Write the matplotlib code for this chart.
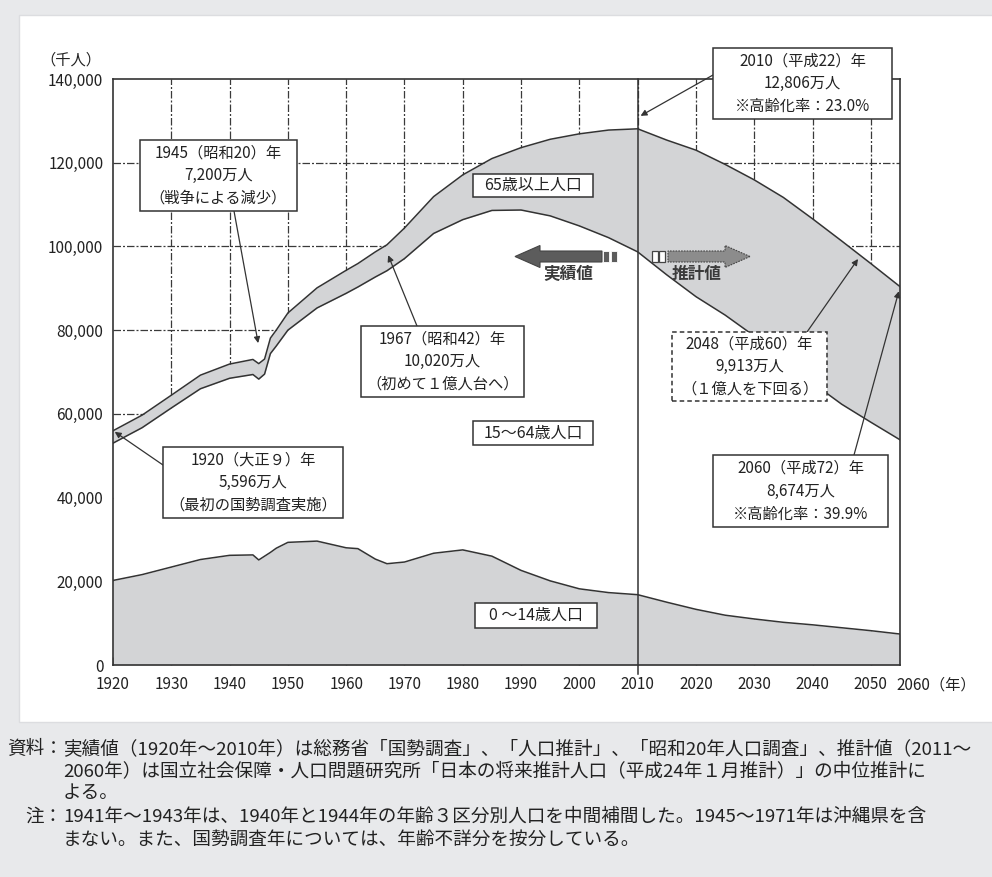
import numpy as np
import matplotlib
matplotlib.use("Agg")
import matplotlib.pyplot as plt
import matplotlib.patches as mpatches
from matplotlib.ticker import FuncFormatter

plt.rcParams['font.family'] = ['Noto Sans CJK JP', 'DejaVu Sans']

# --- data (thousand persons) ---
years = [1920, 1925, 1930, 1935, 1940, 1944, 1945, 1946, 1947, 1948, 1950,
         1955, 1960, 1962, 1965, 1967, 1970, 1975, 1980, 1985, 1990, 1995,
         2000, 2005, 2010, 2015, 2020, 2025, 2030, 2035, 2040, 2045, 2050, 2055]
age_0_14 = [20200, 21600, 23400, 25200, 26200, 26300, 25100, 26000, 26900, 27900, 29300,
            29600, 28000, 27800, 25300, 24200, 24600, 26700, 27500, 26000, 22600, 20100,
            18200, 17300, 16800, 15000, 13300, 11900, 11000, 10200, 9600, 8900, 8200, 7400]
age_15_64 = [32800, 35100, 38000, 40800, 42300, 43100, 43200, 43500, 47500, 48300, 50700,
             55700, 60800, 62500, 67400, 70000, 72500, 76400, 78900, 82600, 86100, 87200,
             86700, 84800, 81900, 78200, 74700, 71700, 67600, 62800, 57800, 53400, 49800, 46400]
age_65_plus = [2960, 3000, 3050, 3250, 3400, 3600, 3700, 3600, 3700, 3800, 4100,
               4800, 5500, 5600, 6000, 6200, 7300, 8800, 10700, 12400, 14900, 18300,
               22000, 25700, 29400, 32200, 35000, 36000, 37300, 38700, 39200, 39000, 37900, 36600]

x_ticks = list(range(1920, 2051, 10))
y_ticks = list(range(0, 140001, 20000))
split_year = 2010

GRAY = '#d3d4d6'
LINE = '#333333'
TXT = '#222222'

W, H = 992, 877


def fx(x):
    return x / W


def fy(y):
    return 1 - y / H


fig = plt.figure(figsize=(W / 100, H / 100), dpi=100, facecolor='#e8e9eb')
panel = mpatches.Rectangle((fx(19), fy(722)), 1.0, fy(15) - fy(722), transform=fig.transFigure,
                           facecolor='white', edgecolor='#dcdde0', lw=1, zorder=-1)
fig.add_artist(panel)

ax = fig.add_axes([fx(113), fy(665), (900 - 113) / W, (665 - 79) / H])

lower = np.array(age_0_14)
mid = lower + np.array(age_15_64)
top = mid + np.array(age_65_plus)

# dash-dot grid, hidden later by the filled bands
dash_dot = (0, (6, 1.6, 1.6, 1.6))
for v in y_ticks[1:-1]:
    ax.axhline(v, color='#3a3a3a', lw=0.9, ls=dash_dot, zorder=1)
for v in x_ticks[1:]:
    ax.axvline(v, color='#3a3a3a', lw=0.9, ls=dash_dot, zorder=1)

ax.fill_between(years, 0, lower, color=GRAY, lw=0, zorder=2)
ax.fill_between(years, lower, mid, color='white', lw=0, zorder=2)
ax.fill_between(years, mid, top, color=GRAY, lw=0, zorder=2)
for arr in (lower, mid, top):
    ax.plot(years, arr, color=LINE, lw=1.1, zorder=3)
ax.axvline(split_year, ymin=-0.015, ymax=1, color=LINE, lw=1.1, zorder=4, clip_on=False)

ax.set_xlim(1920, 2055)
ax.set_ylim(0, 140000)
ax.set_xticks(x_ticks)
ax.set_yticks(y_ticks)
ax.yaxis.set_major_formatter(FuncFormatter(lambda v, p: f'{v:,.0f}'))
ax.tick_params(axis='x', direction='in', length=6, width=1, color=LINE, pad=8,
               labelsize=11, labelcolor=TXT)
ax.tick_params(axis='y', length=0, pad=7, labelsize=11, labelcolor=TXT)
for s in ax.spines.values():
    s.set_color(LINE)
    s.set_linewidth(1.2)
    s.set_zorder(5)

fig.text(fx(71), fy(60), '（千人）', ha='center', va='center', fontsize=11, color=TXT)
fig.text(fx(896), fy(685), '2060（年）', ha='left', va='center', fontsize=11, color=TXT)


def note_box(x0, y0, x1, y1, text, dashed=False, size=11, spacing=1.45):
    rect = mpatches.Rectangle((fx(x0), fy(y1)), fx(x1) - fx(x0), fy(y0) - fy(y1),
                              transform=fig.transFigure, facecolor='white', edgecolor=LINE,
                              lw=1.1, ls=(0, (3, 2)) if dashed else '-', zorder=5)
    fig.add_artist(rect)
    fig.text(fx((x0 + x1) / 2), fy((y0 + y1) / 2), text, ha='center', va='center',
             fontsize=size, color=TXT, linespacing=spacing, zorder=6)


def pointer(sx, sy, tip):
    ax.annotate('', xy=tip, xycoords='data', xytext=(fx(sx), fy(sy)),
                textcoords='figure fraction', annotation_clip=False, zorder=4,
                arrowprops=dict(arrowstyle='-|>', color=LINE, lw=0.9, mutation_scale=9,
                                shrinkA=0, shrinkB=0))


pointer(234, 211, (1944.9, 76900))
note_box(140, 140, 297, 211, '1945（昭和20）年\n7,200万人\n（戦争による減少）')

pointer(417, 326, (1967.2, 97900))
note_box(361, 326, 524, 397, '1967（昭和42）年\n10,020万人\n（初めて１億人台へ）')

pointer(163, 465, (1920.3, 55700))
note_box(163, 447, 343, 518, '1920（大正９）年\n5,596万人\n（最初の国勢調査実施）')

pointer(713, 75, (2010.5, 131200))
note_box(713, 48, 892, 119, '2010（平成22）年\n12,806万人\n※高齢化率：23.0%')

pointer(807, 332, (2047.8, 97000))
note_box(672, 332, 827, 401, '2048（平成60）年\n9,913万人\n（１億人を下回る）', dashed=True)

pointer(854, 455, (2054.8, 89300))
note_box(713, 455, 888, 527, '2060（平成72）年\n8,674万人\n※高齢化率：39.9%')

note_box(473, 174, 593, 197, '65歳以上人口', size=11.5)
note_box(473, 421, 593, 445, '15～64歳人口', size=11.5)
note_box(475, 603, 597, 628, '0 ～14歳人口', size=11.5)

# 実績値 / 推計値 arrows
fig.add_artist(mpatches.FancyArrow(fx(602), fy(256.5), fx(515) - fx(602), 0,
                                   width=11 / H, head_width=22 / H, head_length=25 / W,
                                   length_includes_head=True, transform=fig.transFigure,
                                   facecolor='#5c5c5c', edgecolor='#444444', lw=0.8, zorder=5))
for x0 in (603, 611):
    fig.add_artist(mpatches.Rectangle((fx(x0), fy(262)), 6 / W, 11 / H, transform=fig.transFigure,
                                      facecolor='#5c5c5c', edgecolor='white', lw=0.6, zorder=5))
fig.text(fx(568), fy(274), '実績値', ha='center', va='center', fontsize=12, color='#3a3a3a',
         fontweight='bold')

fig.add_artist(mpatches.FancyArrow(fx(668), fy(256.5), fx(750) - fx(668), 0,
                                   width=11 / H, head_width=22 / H, head_length=25 / W,
                                   length_includes_head=True, transform=fig.transFigure,
                                   facecolor='#8c8c8c', edgecolor='#444444', lw=0.8,
                                   ls=(0, (1.5, 1)), zorder=5))
for x0 in (652, 659):
    fig.add_artist(mpatches.Rectangle((fx(x0), fy(262)), 6 / W, 11 / H, transform=fig.transFigure,
                                      facecolor='white', edgecolor='#444444', lw=0.9, zorder=5))
fig.text(fx(697), fy(274), '推計値', ha='center', va='center', fontsize=12, color='#3a3a3a',
         fontweight='bold')

# source notes below the panel
NOTE = 13.4
fig.text(fx(63), fy(749), '資料：', ha='right', va='center', fontsize=NOTE, color=TXT)
fig.text(fx(63), fy(749), '実績値（1920年～2010年）は総務省「国勢調査」、「人口推計」、「昭和20年人口調査」、推計値（2011～',
         ha='left', va='center', fontsize=NOTE, color=TXT)
fig.text(fx(63), fy(771), '2060年）は国立社会保障・人口問題研究所「日本の将来推計人口（平成24年１月推計）」の中位推計に',
         ha='left', va='center', fontsize=NOTE, color=TXT)
fig.text(fx(63), fy(793), 'よる。', ha='left', va='center', fontsize=NOTE, color=TXT)
fig.text(fx(63), fy(817), '注：', ha='right', va='center', fontsize=NOTE, color=TXT)
fig.text(fx(63), fy(817), '1941年～1943年は、1940年と1944年の年齢３区分別人口を中間補間した。1945～1971年は沖縄県を含',
         ha='left', va='center', fontsize=NOTE, color=TXT)
fig.text(fx(63), fy(840), 'まない。また、国勢調査年については、年齢不詳分を按分している。',
         ha='left', va='center', fontsize=NOTE, color=TXT)

fig.savefig('out.png', dpi=100, facecolor=fig.get_facecolor())
